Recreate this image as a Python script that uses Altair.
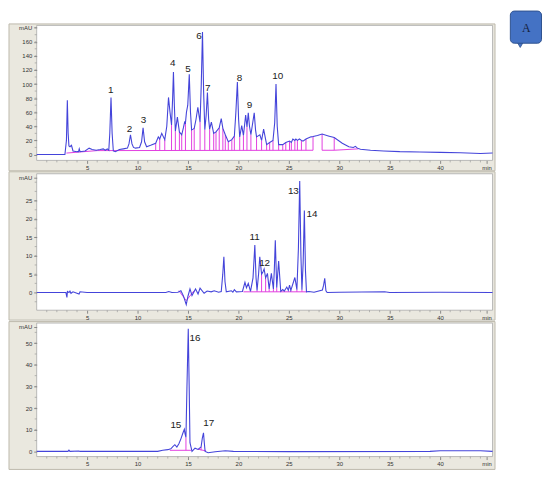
import altair as alt
import pandas as pd

X_MAX = 45.2
W = 461
FONT = "Liberation Sans"
TRACE = "#4444DA"
MAG = "#E23FE0"
FRAME = "#EAE8DF"

# ---------------- Panel 1 ----------------
p1_t = [0, 2.8, 2.95, 3.04, 3.12, 3.2, 3.3, 3.45, 3.6, 4.0, 4.15, 4.22, 4.3, 4.8, 5.2, 5.5, 5.9, 6.3, 6.6, 6.8,
        7.0, 7.15, 7.25, 7.37, 7.48, 7.6, 7.8, 8.2, 8.6, 9.0, 9.15, 9.3, 9.45, 9.6, 9.8, 10.2, 10.4, 10.55, 10.7,
        10.9, 11.3, 11.8, 12.06, 12.2, 12.4, 12.7, 12.9, 13.07, 13.22, 13.37, 13.48, 13.56, 13.65, 13.75, 13.95,
        14.15, 14.38, 14.55, 14.67, 14.75, 14.85, 14.98, 15.13, 15.25, 15.36, 15.5, 15.62, 15.8, 15.98, 16.1,
        16.2, 16.32, 16.44, 16.55, 16.67, 16.8, 16.93, 17.05, 17.15, 17.32, 17.55, 17.78, 18.1, 18.3, 18.46,
        18.7, 19.0, 19.35, 19.6, 19.75, 19.9, 20.02, 20.13, 20.33, 20.5, 20.72, 20.85, 20.98, 21.1, 21.24,
        21.57, 21.7, 21.8, 22.13, 22.3, 22.5, 22.8, 23.1, 23.43, 23.6, 23.73, 23.85, 23.99, 24.4, 24.7, 25.07,
        25.25, 25.4, 25.6, 25.7, 25.85, 26.05, 26.25, 26.4, 26.7, 27.2, 27.4, 27.84, 28.3, 29.0, 29.5, 30.3,
        30.95, 31.4, 31.6, 31.8, 32.1, 33.1, 34.4, 36, 38, 40, 42, 44, 45.2]
p1_v = [0, 0, 20, 77, 30, 12, 11, 13, 5, 4, 4, 8, 4, 5, 9, 7, 6, 7, 8, 6,
        8, 6, 30, 81, 30, 5, 4, 7, 8, 9, 15, 28, 15, 10, 9, 10, 18, 38, 18,
        11, 13, 16, 25, 22, 30, 21, 40, 81, 60, 42, 80, 117, 70, 33, 53,
        32, 28, 38, 46, 45, 60, 70, 114, 60, 35, 36, 37, 50, 67, 55,
        46, 100, 174, 90, 35, 55, 88, 50, 36, 46, 30, 32, 38, 51, 37,
        28, 18, 21, 26, 60, 103, 50, 25, 41, 27, 56, 39, 59, 40, 28,
        59, 35, 25, 28, 20, 36, 14, 17, 20, 45, 100, 40, 14, 14, 17, 19,
        17, 22, 20, 22, 20, 22, 20, 19, 22, 25, 25.5, 27, 29, 26, 24, 16,
        11, 10, 11.5, 9, 7.5, 6, 5, 4, 3.5, 3, 2.5, 1.5, 2]
p1_drop_t = [11.8, 12.2, 12.7, 13.37, 13.75, 14.15, 14.38, 14.75, 15.36, 15.62, 16.2, 16.67, 17.15, 17.55,
             17.78, 18.1, 18.46, 18.7, 19.0, 19.35, 19.6, 20.13, 20.5, 20.85, 21.24, 21.8, 22.3, 22.8, 23.1,
             23.43, 23.99, 24.4, 24.7, 25.07, 25.25, 25.6, 25.85, 26.25, 26.7, 27.4, 28.3, 29.5]
p1_drop_v = [16, 22, 21, 42, 33, 32, 28, 45, 35, 37, 46, 35, 36, 30,
             32, 38, 37, 28, 18, 21, 26, 25, 27, 39, 28, 25, 20, 14, 17,
             20, 14, 14, 17, 19, 17, 20, 20, 20, 22, 25.5, 29, 24]
p1_drop_base = 6
p1_seg_t1 = [2.95, 6.0, 28.3, 29.5]
p1_seg_t2 = [6.0, 27.4, 29.5, 31.9]
p1_seg_v1 = [2, 5.5, 6, 6]
p1_seg_v2 = [5.5, 6, 6, 8]
p1_lab = ["1", "2", "3", "4", "5", "6", "7", "8", "9", "10"]
p1_lab_t = [7.35, 9.2, 10.6, 13.5, 15.0, 16.1, 16.96, 20.1, 21.1, 23.9]
p1_lab_v = [91, 36.5, 49, 130, 121, 168, 94, 109, 70, 112]
p1_yticks = [0, 20, 40, 60, 80, 100, 120, 140, 160]

# ---------------- Panel 2 ----------------
p2_t = [0, 2.9, 3.0, 3.05, 3.2, 3.3, 3.4, 3.6, 4.2, 4.3, 5, 12.8, 13.1, 13.4, 14.0, 14.3, 14.55, 14.83, 15.0,
        15.2, 15.4, 15.75, 16.0, 16.2, 16.6, 16.9, 17.3, 17.6, 18.04, 18.3, 18.45, 18.56, 18.67, 18.8, 19.3,
        19.45, 19.6, 19.8, 20.4, 20.65, 20.8, 20.98, 21.2, 21.45, 21.63, 21.75, 21.85, 22.0, 22.12, 22.3,
        22.42, 22.55, 22.7, 22.88, 23.05, 23.27, 23.47, 23.56, 23.66, 23.8, 23.99, 24.2, 24.4, 24.55, 24.8,
        24.95, 25.07, 25.2, 25.6, 25.8, 25.95, 26.08, 26.2, 26.3, 26.42, 26.54, 26.65, 26.75, 27.0, 27.5,
        28.33, 28.45, 28.56, 28.68, 28.8, 30, 34.5, 35, 40, 45.2]
p2_v = [0, 0, -1.3, 0.3, 0, 0.4, -0.2, 0.2, -0.4, 0.2, 0, 0, 0.3, 0, 0.1, 0.5, -0.9, -3.3, -1.0,
        1.0, -0.8, 1.0, -0.4, 1.2, -0.2, 0.4, 0.2, 0.5, 0.1, 0.3, 5, 9.7, 3, 0.2, 0.5,
        0.1, 0.8, 0.2, 0.3, 2.8, 1.3, 2.5, 0.3, 4, 12.9, 4, 0.6, 5, 9.7, 5,
        5.5, 6.4, 4, 5.2, 1, 5.2, 1, 6, 14.2, 1.3, 8.6, 0.3, 0.8, 0.4, 1.5,
        0.6, 2, 0.6, 4.1, 0.8, 12, 30.3, 10, 0.8, 8, 22.3, 6, 0.2, 0.3, 0.1,
        0.7, 2, 3.9, 0.5, 0, 0.1, 0.2, 0, 0.1, 0]
p2_drop_t = [21.85, 22.3, 22.7, 23.05, 23.47, 23.8, 24.2, 25.2, 25.8, 26.3]
p2_drop_v = [0.6, 5, 4, 1, 1, 1.3, 0.3, 0.6, 0.8, 0.8]
p2_drop_base = 0.2
p2_seg_t1 = [14.1, 14.83, 20.5]
p2_seg_t2 = [14.83, 15.6, 26.8]
p2_seg_v1 = [0.5, -2.2, 0.2]
p2_seg_v2 = [-2.2, 0.5, 0.2]
p2_lab = ["11", "12", "13", "14"]
p2_lab_t = [21.6, 22.6, 25.45, 27.3]
p2_lab_v = [15, 8.1, 27.7, 21.3]
p2_yticks = [0, 5, 10, 15, 20, 25]

# ---------------- Panel 3 ----------------
p3_t = [0, 3.1, 3.2, 3.3, 4.2, 4.3, 12.0, 12.5, 13.0, 13.3, 13.5, 13.7, 13.9, 14.1, 14.3, 14.5, 14.64, 14.72,
        14.8, 14.9, 15.03, 15.12, 15.2, 15.4, 15.7, 16.0, 16.3, 16.42, 16.54, 16.62, 16.7, 17.0, 17.7, 18.7,
        19.5, 25, 39, 40, 44, 45.2]
p3_v = [0, 0, 0.6, 0, 0.2, 0, 0, 0.5, 0.8, 1.2, 2.2, 3.1, 2.0, 3.5, 5.8, 8.5, 10.2, 8,
        6.5, 30, 56.7, 30, 4, 0, 1.5, 0.9, 2, 6, 8.6, 4, 0, -0.6, -0.2, 0.3,
        0, -0.1, 0, 0.3, 0.3, 0]
p3_drop_t = [14.8, 16.3]
p3_drop_v = [6.5, 2]
p3_drop_base = 0.5
p3_seg_t1 = [13.2, 16.0]
p3_seg_t2 = [15.3, 16.8]
p3_seg_v1 = [0.5, 1.0]
p3_seg_v2 = [0.5, 0.2]
p3_lab = ["15", "16", "17"]
p3_lab_t = [13.8, 15.7, 17.06]
p3_lab_v = [12, 52.4, 13]
p3_yticks = [0, 10, 20, 30, 40, 50]

x_ticks = [5, 10, 15, 20, 25, 30, 35, 40]
x_unit_pos = 44.6
x_minor = [i for i in range(1, 46) if i % 5 != 0]


def panel(t, v, dt, dv, dbase, s1, s2, v1, v2, lab, lt, lv, yticks, ydom, unit_pos, ystep, H, frame_top, frame_bot, badge=False):
    xs = alt.Scale(domain=[0, X_MAX], nice=False, zero=False)
    ys = alt.Scale(domain=ydom, nice=False, zero=False)
    xaxis = alt.Axis(values=x_ticks + [x_unit_pos],
                     labelExpr=f"datum.value > 44 ? 'min' : datum.label",
                     title=None, tickSize=3, labelPadding=1, labelFontSize=6, labelColor="#333",
                     tickColor="#888", domain=False, grid=False, zindex=1, labelFont=FONT,
                     labelFlush=False, labelOverlap=False)
    yaxis = alt.Axis(values=yticks + [unit_pos],
                     labelExpr=f"datum.value > {yticks[-1]} ? 'mAU' : datum.label",
                     title=None, tickSize=3, labelPadding=2, labelFontSize=6, labelColor="#333",
                     tickColor="#888", domain=False, grid=False, zindex=1, labelFont=FONT,
                     labelOverlap=False, labelFlush=False)
    one = pd.DataFrame({"k": [0]})
    frame = alt.Chart(one).mark_rect(fill=FRAME, stroke="#BDB9AC", strokeWidth=1).encode(
        x=alt.value(-28), x2=alt.value(W + 2.5), y=alt.value(frame_top), y2=alt.value(H + frame_bot))
    white = alt.Chart(one).mark_rect(fill="white", stroke="#A9A9A9", strokeWidth=0.8).encode(
        x=alt.value(0), x2=alt.value(W), y=alt.value(0), y2=alt.value(H))
    xm = pd.DataFrame({"t": x_minor})
    xminor = alt.Chart(xm).mark_rule(color="#999", strokeWidth=0.7).encode(
        x=alt.X("t:Q", scale=xs, axis=xaxis), y=alt.value(H), y2=alt.value(H + 2))
    ym_vals = []
    val = ydom[0]
    k = 1
    while yticks[0] + k * ystep < ydom[1] - 1:
        ym_vals.append(yticks[0] + k * ystep)
        k += 1
    nk = 1
    while yticks[0] - nk * ystep > ydom[0]:
        ym_vals.append(yticks[0] - nk * ystep)
        nk += 1
    ym = pd.DataFrame({"v": ym_vals})
    yminor = alt.Chart(ym).mark_rule(color="#999", strokeWidth=0.7).encode(
        y=alt.Y("v:Q", scale=ys, axis=yaxis), x=alt.value(-2), x2=alt.value(0))
    seg = pd.DataFrame({"t1": s1, "t2": s2, "v1": v1, "v2": v2})
    segs = alt.Chart(seg).mark_rule(color=MAG, strokeWidth=1).encode(
        x=alt.X("t1:Q", scale=xs, axis=xaxis), x2="t2:Q",
        y=alt.Y("v1:Q", scale=ys, axis=yaxis), y2="v2:Q")
    dd = pd.DataFrame({"t": dt, "v": dv, "b": [dbase] * len(dt)})
    drops = alt.Chart(dd).mark_rule(color=MAG, strokeWidth=1).encode(
        x=alt.X("t:Q", scale=xs, axis=xaxis), y=alt.Y("v:Q", scale=ys, axis=yaxis), y2="b:Q")
    tr = pd.DataFrame({"t": t, "v": v})
    line = alt.Chart(tr).mark_line(color=TRACE, strokeWidth=1.1).encode(
        x=alt.X("t:Q", scale=xs, axis=xaxis), y=alt.Y("v:Q", scale=ys, axis=yaxis))
    ld = pd.DataFrame({"lab": lab, "t": lt, "v": lv})
    labels = alt.Chart(ld).mark_text(font=FONT, fontSize=10, color="#222", baseline="middle", align="center").encode(
        x=alt.X("t:Q", scale=xs, axis=xaxis), y=alt.Y("v:Q", scale=ys, axis=yaxis), text="lab:N")
    layers = [frame, white, xminor, yminor, segs, drops, line, labels]
    if badge:
        bd = alt.Chart(one).mark_rect(fill="#4472C4", stroke="#2F528F", strokeWidth=1, cornerRadius=4).encode(
            x=alt.value(479), x2=alt.value(510.5), y=alt.value(-14.5), y2=alt.value(18))
        tail = alt.Chart(one).mark_point(shape="triangle-down", filled=True, fill="#4472C4",
                                         stroke="#2F528F", strokeWidth=0.8, size=28, opacity=1).encode(
            x=alt.value(489), y=alt.value(20))
        atxt = alt.Chart(one).mark_text(text="A", font="Liberation Serif", fontSize=12, color="#14213D",
                                        align="center", baseline="middle").encode(
            x=alt.value(495), y=alt.value(2.5))
        layers += [tail, bd, atxt]
    return alt.layer(*layers).properties(width=W, height=H)


c1 = panel(p1_t, p1_v, p1_drop_t, p1_drop_v, p1_drop_base, p1_seg_t1, p1_seg_t2, p1_seg_v1, p1_seg_v2,
           p1_lab, p1_lab_t, p1_lab_v, p1_yticks, [-8.4, 183.2], 180, 10, 136.5, -1.5, 10.5, badge=True)
c2 = panel(p2_t, p2_v, p2_drop_t, p2_drop_v, p2_drop_base, p2_seg_t1, p2_seg_t2, p2_seg_v1, p2_seg_v2,
           p2_lab, p2_lab_t, p2_lab_v, p2_yticks, [-4.8, 32.3], 31.2, 2.5, 138, -2, 10)
c3 = panel(p3_t, p3_v, p3_drop_t, p3_drop_v, p3_drop_base, p3_seg_t1, p3_seg_t2, p3_seg_v1, p3_seg_v2,
           p3_lab, p3_lab_t, p3_lab_v, p3_yticks, [-2.4, 59.3], 57.6, 5, 135, -1.5, 13)

chart = alt.vconcat(c1, c2, c3, spacing=13, bounds="flush").properties(
    padding={"left": 0, "top": 0, "right": 0, "bottom": 0}, background="white"
).configure_view(stroke=None)

chart.save("out.html", embed_options={"renderer": "svg", "actions": False})
